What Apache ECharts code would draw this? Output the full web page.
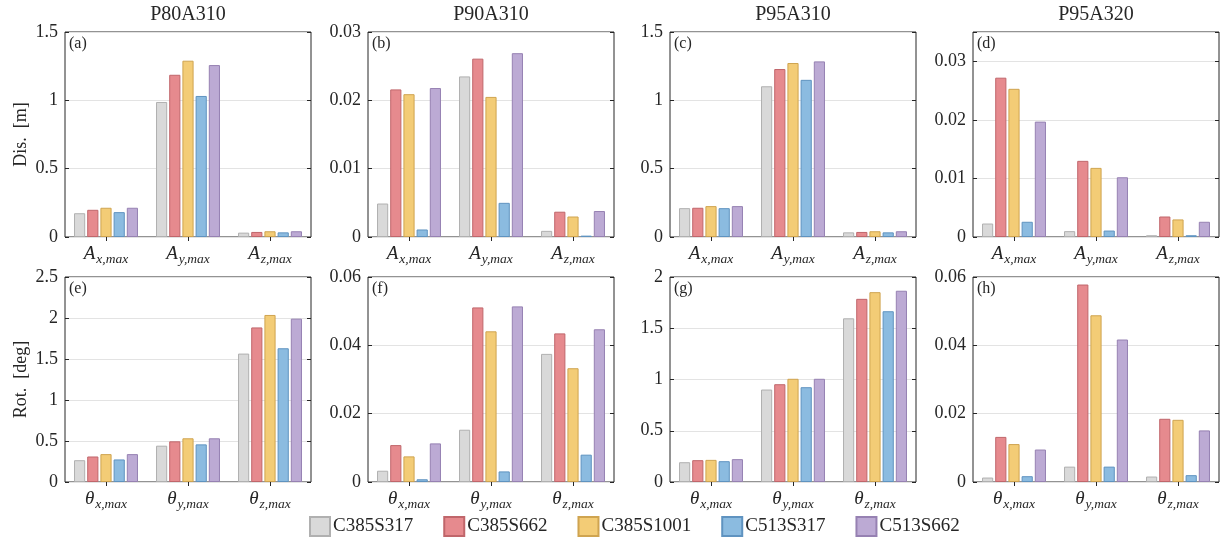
<!DOCTYPE html>
<html>
<head>
<meta charset="utf-8">
<script src="https://cdn.jsdelivr.net/npm/echarts@6/dist/echarts.min.js"></script>
<style>
html,body{margin:0;padding:0;background:#fff;}
#chart{width:1231px;height:541px;}
</style>
</head>
<body>
<div id="chart"></div>
<script>
// ---------- data ----------
const seriesNames = ['C385S317', 'C385S662', 'C385S1001', 'C513S317', 'C513S662'];
const panelTitles = ['P80A310', 'P90A310', 'P95A310', 'P95A320'];
const panelLetters = ['(a)', '(b)', '(c)', '(d)', '(e)', '(f)', '(g)', '(h)'];
const disCategories = ['x', 'y', 'z'];   // A_{x,max}, A_{y,max}, A_{z,max}
const rotCategories = ['x', 'y', 'z'];   // θ_{x,max}, ...
const yAxisNames = ['Dis.  [m]', 'Rot.  [deg]'];

// Displacement [m], rows = series (C385S317, C385S662, C385S1001, C513S317, C513S662), cols = Ax, Ay, Az
const disP80A310 = [
  [0.174, 0.988, 0.032],
  [0.199, 1.187, 0.037],
  [0.214, 1.290, 0.042],
  [0.182, 1.032, 0.034],
  [0.214, 1.258, 0.042]
];
const disP90A310 = [
  [0.0049, 0.0235, 0.0009],
  [0.0216, 0.0261, 0.0037],
  [0.0209, 0.0205, 0.0030],
  [0.0011, 0.0050, 0.0002],
  [0.0218, 0.0269, 0.0038]
];
const disP95A310 = [
  [0.211, 1.103, 0.034],
  [0.214, 1.229, 0.037],
  [0.226, 1.273, 0.042],
  [0.211, 1.150, 0.034],
  [0.226, 1.285, 0.042]
];
const disP95A320 = [
  [0.0023, 0.0010, 0.0003],
  [0.0272, 0.0130, 0.0035],
  [0.0253, 0.0118, 0.0030],
  [0.0026, 0.0011, 0.0003],
  [0.0197, 0.0102, 0.0026]
];
// Rotation [deg], cols = θx, θy, θz
const rotP80A310 = [
  [0.266, 0.443, 1.566],
  [0.311, 0.496, 1.885],
  [0.340, 0.533, 2.037],
  [0.275, 0.459, 1.631],
  [0.340, 0.533, 1.992]
];
const rotP90A310 = [
  [0.0033, 0.0153, 0.0375],
  [0.0108, 0.0511, 0.0435],
  [0.0075, 0.0441, 0.0333],
  [0.0008, 0.0031, 0.0080],
  [0.0113, 0.0514, 0.0447]
];
const rotP95A310 = [
  [0.193, 0.902, 1.597],
  [0.213, 0.954, 1.787],
  [0.216, 1.007, 1.852],
  [0.203, 0.925, 1.666],
  [0.223, 1.007, 1.866]
];
const rotP95A320 = [
  [0.0013, 0.0045, 0.0016],
  [0.0132, 0.0578, 0.0185],
  [0.0111, 0.0488, 0.0182],
  [0.0017, 0.0045, 0.0020],
  [0.0095, 0.0417, 0.0151]
];

// axis ranges
const yMaxTop = [1.5, 0.03, 1.5, 0.035];
const yIntTop = [0.5, 0.01, 0.5, 0.01];
const yMaxBot = [2.5, 0.06, 2, 0.06];
const yIntBot = [0.5, 0.02, 0.5, 0.02];

// ---------- style ----------
const fillColors = ['#d9d9d9', '#e68a8e', '#f3cc76', '#8bbbe0', '#bcaad4'];
const borderColors = ['#b0b0b0', '#c0666b', '#cfa450', '#5f93c0', '#9681b2'];
const FONT = 'Liberation Serif';
const TXT = '#262626';

const colLefts = [65, 368, 670, 973];
const gridW = 246;
const rowTops = [32, 277];
const gridH = 205;

const panels = [
  {data: disP80A310, cats: disCategories, sym: 'A', max: yMaxTop[0], int: yIntTop[0]},
  {data: disP90A310, cats: disCategories, sym: 'A', max: yMaxTop[1], int: yIntTop[1]},
  {data: disP95A310, cats: disCategories, sym: 'A', max: yMaxTop[2], int: yIntTop[2]},
  {data: disP95A320, cats: disCategories, sym: 'A', max: yMaxTop[3], int: yIntTop[3]},
  {data: rotP80A310, cats: rotCategories, sym: 'θ', max: yMaxBot[0], int: yIntBot[0]},
  {data: rotP90A310, cats: rotCategories, sym: 'θ', max: yMaxBot[1], int: yIntBot[1]},
  {data: rotP95A310, cats: rotCategories, sym: 'θ', max: yMaxBot[2], int: yIntBot[2]},
  {data: rotP95A320, cats: rotCategories, sym: 'θ', max: yMaxBot[3], int: yIntBot[3]}
];

const grids = [], xAxes = [], yAxes = [], series = [], graphics = [];

panels.forEach((p, i) => {
  const row = Math.floor(i / 4), col = i % 4;
  grids.push({
    left: colLefts[col], top: rowTops[row], width: gridW, height: gridH,
    show: true, borderColor: '#262626', borderWidth: 1, backgroundColor: 'transparent'
  });
  const sym = p.sym;
  // bottom category axis
  xAxes.push({
    type: 'category', gridIndex: i, data: p.cats, position: 'bottom',
    axisLine: {show: false},
    axisTick: {show: true, inside: true, alignWithLabel: true, length: 4, lineStyle: {color: '#262626'}},
    axisLabel: {
      margin: 5, interval: 0, hideOverlap: false,
      formatter: v => '{m|' + sym + '}{s|' + v + ',max}',
      rich: {
        m: {fontFamily: FONT, fontStyle: 'italic', fontSize: 19, color: TXT},
        s: {fontFamily: FONT, fontStyle: 'italic', fontSize: 13.5, color: TXT, padding: [10, 0, 0, 1]}
      }
    }
  });
  // top axis for ticks
  xAxes.push({
    type: 'category', gridIndex: i, data: p.cats, position: 'top',
    axisLine: {show: false},
    axisTick: {show: true, inside: true, alignWithLabel: true, length: 4, lineStyle: {color: '#262626'}},
    axisLabel: {show: false}
  });
  const mx = p.max, it = p.int;
  const fmt = v => {
    const r = Math.round(v / it);
    if (Math.abs(v - r * it) > it * 1e-6) return '';
    return String(+v.toFixed(4));
  };
  yAxes.push({
    type: 'value', gridIndex: i, min: 0, max: mx, interval: it, position: 'left',
    name: col === 0 ? yAxisNames[row] : '',
    nameLocation: 'middle', nameGap: 35, nameRotate: 90,
    nameTextStyle: {fontFamily: FONT, fontSize: 18, color: TXT},
    axisLine: {show: false},
    axisTick: {show: true, inside: true, length: 4, lineStyle: {color: '#262626'}},
    axisLabel: {fontFamily: FONT, fontSize: 18, color: TXT, margin: 7, formatter: fmt},
    splitLine: {show: true, lineStyle: {color: '#e3e3e3', width: 1}}
  });
  yAxes.push({
    type: 'value', gridIndex: i, min: 0, max: mx, interval: it, position: 'right',
    axisLine: {show: false},
    axisTick: {show: true, inside: true, length: 4, lineStyle: {color: '#262626'}},
    axisLabel: {show: false},
    splitLine: {show: false}
  });
  seriesNames.forEach((name, s) => {
    series.push({
      type: 'bar', name: name,
      xAxisIndex: 2 * i, yAxisIndex: 2 * i,
      data: p.data[s],
      barGap: '18%', barCategoryGap: '22%',
      itemStyle: {color: fillColors[s], borderColor: borderColors[s], borderWidth: 1},
      emphasis: {disabled: true},
      animation: false
    });
  });
  // panel letter
  graphics.push({
    type: 'text', left: colLefts[col] + 4, top: rowTops[row] + 4,
    style: {text: panelLetters[i], font: '16px "' + FONT + '"', fill: TXT}
  });
});

panelTitles.forEach((t, c) => {
  graphics.push({
    type: 'text', x: colLefts[c] + gridW / 2, y: 15,
    style: {text: t, font: '20px "' + FONT + '"', fill: TXT, align: 'center', verticalAlign: 'middle'}
  });
});

const option = {
  animation: false,
  backgroundColor: '#fff',
  grid: grids,
  xAxis: xAxes,
  yAxis: yAxes,
  series: series,
  graphic: graphics,
  legend: {
    data: seriesNames,
    top: 516, left: 309, padding: 0,
    itemWidth: 20, itemHeight: 19, itemGap: 30,
    icon: 'rect',
    textStyle: {fontFamily: FONT, fontSize: 19, color: TXT, padding: [0, 0, 0, -2]},
    selectedMode: false
  }
};

const chart = echarts.init(document.getElementById('chart'), null, {renderer: 'canvas'});
chart.setOption(option);
</script>
</body>
</html>
